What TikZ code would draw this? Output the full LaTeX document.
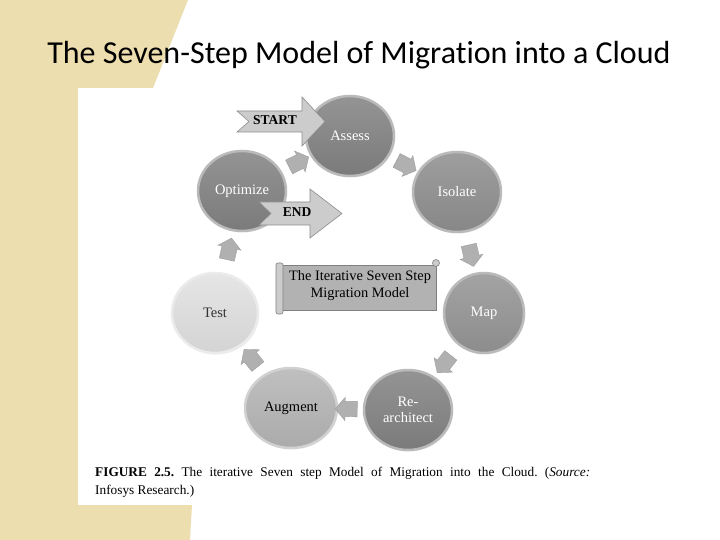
\documentclass[tikz,border=0pt]{standalone}
\usepackage{fontspec}
\setmainfont{Liberation Serif}
\newfontfamily\titlefont[Ligatures=NoCommon]{Carlito}
\usepackage{tikz}
\usetikzlibrary{arrows.meta, positioning, shapes.geometric, shapes.arrows, shadows, calc}

\definecolor{tanband}{RGB}{236,222,174}
\frenchspacing

\begin{document}
\begin{tikzpicture}[x=1pt, y=-1pt,
    stepnode/.style={ellipse, minimum width=88pt, minimum height=80pt, inner sep=0pt, align=center, font=\fontsize{14.5}{16}\selectfont, line width=2.5pt, drop shadow={opacity=0.15, shadow xshift=1pt, shadow yshift=-1.5pt}},
    darkstep/.style={stepnode, draw=black!27, top color=black!42, bottom color=black!52, text=white},
    midstep/.style={stepnode, draw=black!18, top color=black!25, bottom color=black!33, text=black},
    lightstep/.style={stepnode, draw=black!8, top color=black!10, bottom color=black!17, text=black!80},
    flowarr/.style={single arrow, minimum height=22pt, inner xsep=0pt, inner ysep=7.5pt, single arrow head extend=4pt, single arrow tip angle=100, fill=black!31, draw=black!38, line width=0.4pt},
    bigarr/.style={fill=black!20, draw=black!45, line width=0.6pt},
    arrlabel/.style={font=\bfseries\fontsize{13.5}{15}\selectfont}
]
\useasboundingbox (0,0) rectangle (720,540);
\fill[white] (0,0) rectangle (720,540);
\fill[tanband] (0,0) -- (188,0) -- (153,88) -- (192,505) -- (190,540) -- (0,540) -- cycle;
\fill[white] (78,88) rectangle (600,505);

\node[font=\titlefont\fontsize{32}{36}\selectfont] (title) at (359,55) {The Seven-Step Model of Migration into a Cloud};

% the seven steps
\node[darkstep] (assess) at (350,136) {Assess};
\node[darkstep, top color=black!38, bottom color=black!47] (isolate) at (457,192) {Isolate};
\node[darkstep, top color=black!36, bottom color=black!45, minimum width=80pt] (map) at (484,313) {Map};
\node[darkstep] (rearch) at (408,410) {Re-\\architect};
\node[midstep, minimum width=92pt] (augment) at (291,408) {Augment};
\node[lightstep, minimum width=86pt] (test) at (215,313) {Test};
\node[darkstep] (optimize) at (242,191) {Optimize};

\foreach \a/\b in {assess/isolate, isolate/map, map/rearch, rearch/augment, augment/test, test/optimize, optimize/assess}
  \path let \p1 = ($(\b)-(\a)$), \n1 = {atan2(\y1,\x1)} in
    node[flowarr, rotate=\n1] (to-\b) at ($(\a)!0.5!(\b)$) {};

% start and end
\draw[bigarr] (237,111) -- (302,111) -- (302,97) -- (325,121.5) -- (302,146) -- (302,132) -- (237,132) -- (249,121.5) -- cycle;
\node[arrlabel] (start) at (275,120) {START};
\draw[bigarr] (259,202) -- (310,202) -- (310,189) -- (342,213.5) -- (310,238) -- (310,225) -- (259,225) -- (271,213.5) -- cycle;
\node[arrlabel] (end) at (297,212) {END};

% scroll
\fill[black!30, draw=black!50, line width=0.6pt] (281,265) rectangle (436,310);
\draw[black!50, fill=black!20, line width=0.6pt, rounded corners=2pt] (276,263) rectangle (283,314);
\draw[black!50, fill=black!20, line width=0.6pt] (436,263) circle (3.5);
\node[font=\fontsize{14.4}{17}\selectfont, align=center] (banner) at (360,286) {The Iterative Seven Step\\Migration Model};

\node[anchor=north west, text width=495pt, align=justify, inner sep=0pt, font=\fontsize{13.3}{18}\selectfont] (caption) at (95,467) {\textbf{FIGURE 2.5.} The iterative Seven step Model of Migration into the Cloud. (\textit{Source:}\linebreak Infosys Research.)};
\end{tikzpicture}
\end{document}
